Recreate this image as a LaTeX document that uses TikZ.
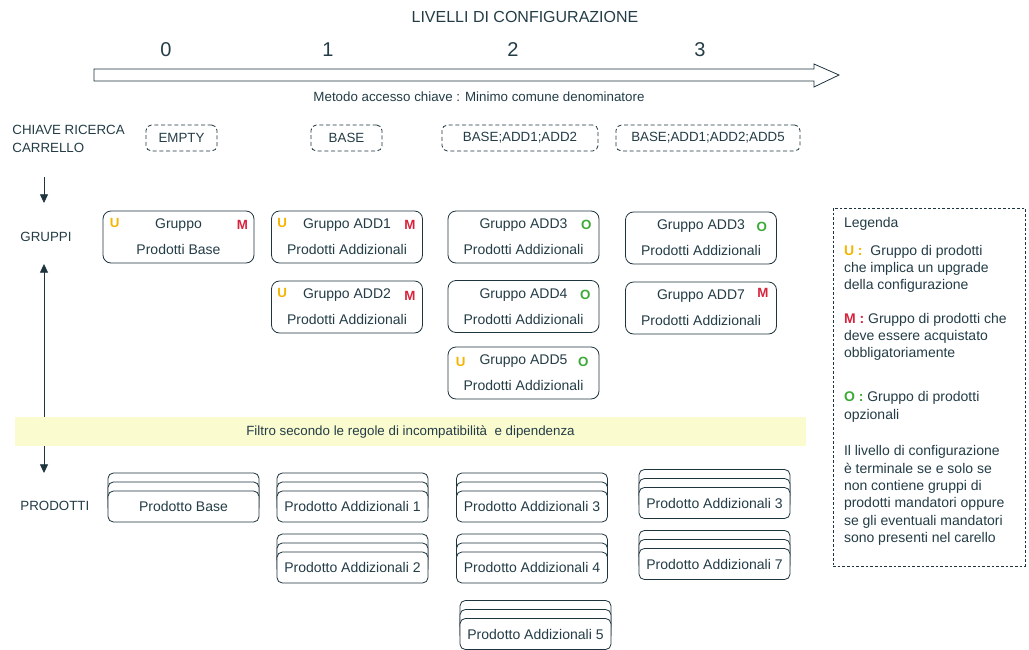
\documentclass[tikz,border=0pt]{standalone}
\usepackage{fontspec}
\setmainfont{Liberation Sans}
\usepackage{tikz}
\usetikzlibrary{
        arrows.meta,
        shadows,
        positioning,
        calc
    }
\definecolor{txtc}{RGB}{35,60,70}
\definecolor{linec}{RGB}{30,52,62}
\definecolor{ucol}{RGB}{245,180,0}
\definecolor{mcol}{RGB}{215,35,60}
\definecolor{ocol}{RGB}{60,170,55}
\definecolor{filtc}{RGB}{251,251,208}

\begin{document}
\begin{tikzpicture}
[x=0.75pt, y=-0.75pt, line width=0.6pt,
every node/.style={text=txtc, font=\fontsize{10.5}{12.6}\selectfont},
keybox/.style={draw=linec, dash pattern=on 3pt off 2pt, rounded corners=4pt, minimum height=19.5pt, inner sep=0pt, font=\fontsize{10}{12}\selectfont},
grpbox/.style={draw=linec, rounded corners=6pt, minimum width=113.25pt, minimum height=39pt, align=center, inner sep=0pt},
prodbox/.style={draw=linec, fill=white, rounded corners=4pt, minimum width=113.25pt, minimum height=23.25pt, inner sep=0pt,
    copy shadow={shadow xshift=0pt, shadow yshift=13.5pt, draw=linec, fill=white},
    copy shadow={shadow xshift=0pt, shadow yshift=6.75pt, draw=linec, fill=white}},
umark/.style={inner sep=0pt, text=ucol, font=\fontsize{10}{12}\selectfont\bfseries},
mmark/.style={inner sep=0pt, text=mcol, font=\fontsize{10}{12}\selectfont\bfseries},
omark/.style={inner sep=0pt, text=ocol, font=\fontsize{10}{12}\selectfont\bfseries},
rowlabel/.style={anchor=west, align=left, inner sep=0pt, font=\fontsize{10}{13.5}\selectfont},
levnum/.style={font=\fontsize{15}{18}\selectfont},
filtbox/.style={fill=filtc, minimum width=593.25pt, minimum height=21.75pt, inner sep=0pt, font=\fontsize{10}{12}\selectfont},
legbox/.style={draw=linec, dash pattern=on 2pt off 1.5pt, minimum width=144pt, minimum height=268.5pt},
legtext/.style={anchor=north west, align=left, inner sep=0pt, font=\fontsize{10.5}{13}\selectfont},
arrow/.style={draw=linec, -{Triangle[width=6pt,length=6.5pt]}},
]
    \useasboundingbox (0,0) rectangle (1029,650);

    % levels
    \node (title) at (525,17) [font=\fontsize{12}{14}\selectfont] {LIVELLI DI CONFIGURAZIONE};
    \node (lev0) [levnum] at (166,50) {0};
    \node (lev1) [levnum] at (328,50) {1};
    \node (lev2) [levnum] at (513,50) {2};
    \node (lev3) [levnum] at (700,50) {3};
    \draw[draw=linec, fill=white] (94,69) -- (814,69) -- (814,64) -- (839,75) -- (814,87) -- (814,81) -- (94,81) -- cycle;
    \node (metodo) at (479,97) [font=\fontsize{10}{12}\selectfont] {Metodo accesso chiave : Minimo comune denominatore};

    % search keys
    \node (chiave) [rowlabel] at (12,139) {CHIAVE RICERCA\\CARRELLO};
    \node (key0) [keybox, minimum width=53.25pt] at (181.5,138) {EMPTY};
    \node (key1) [keybox, minimum width=53.25pt] at (346.5,138) {BASE};
    \node (key2) [keybox, minimum width=117pt] at (520,138) {BASE;ADD1;ADD2};
    \node (key3) [keybox, minimum width=138pt] at (708,138) {BASE;ADD1;ADD2;ADD5};

    % groups
    \node (gruppi) [rowlabel] at (20,237) {GRUPPI};
    \node (grp0) [grpbox] at (178.5,237) {Gruppo\\[7pt]Prodotti Base};
    \node (grp1) [grpbox] at (347,237) {Gruppo ADD1\\[7pt]Prodotti Addizionali};
    \node (grp2) [grpbox] at (347,307) {Gruppo ADD2\\[7pt]Prodotti Addizionali};
    \node (grp3) [grpbox] at (523.5,237) {Gruppo ADD3\\[7pt]Prodotti Addizionali};
    \node (grp4) [grpbox] at (523.5,306.5) {Gruppo ADD4\\[7pt]Prodotti Addizionali};
    \node (grp5) [grpbox] at (523.5,373) {Gruppo ADD5\\[7pt]Prodotti Addizionali};
    \node (grp6) [grpbox] at (701,238) {Gruppo ADD3\\[7pt]Prodotti Addizionali};
    \node (grp7) [grpbox] at (701,308) {Gruppo ADD7\\[7pt]Prodotti Addizionali};

    \node (u0) [umark] at ($(grp0.north west)+(12,12)$) {U};
    \node (m0) [mmark] at ($(grp0.north east)+(-12,14)$) {M};
    \node (u1) [umark] at ($(grp1.north west)+(11,12)$) {U};
    \node (m1) [mmark] at ($(grp1.north east)+(-13,14)$) {M};
    \node (u2) [umark] at ($(grp2.north west)+(11,12)$) {U};
    \node (m2) [mmark] at ($(grp2.north east)+(-13,15)$) {M};
    \node (o3) [omark] at ($(grp3.north east)+(-13,14)$) {O};
    \node (o4) [omark] at ($(grp4.north east)+(-14,15)$) {O};
    \node (u5) [umark] at ($(grp5.north west)+(13,15)$) {U};
    \node (o5) [omark] at ($(grp5.north east)+(-16,15)$) {O};
    \node (o6) [omark] at ($(grp6.north east)+(-15,15)$) {O};
    \node (m7) [mmark] at ($(grp7.north east)+(-14,11)$) {M};

    % filter
    \node (filtro) [filtbox] at (410.5,431.5) {Filtro secondo le regole di incompatibilità \ e dipendenza};

    \coordinate (dn0) at (44,177);
    \coordinate (dn1) at (44,203);
    \coordinate (up1) at (44,264);
    \coordinate (dn2) at (44,473);
    \draw[arrow] (dn0) -- (dn1);
    \draw[arrow] (filtro.north -| up1) -- (up1);
    \draw[arrow] (filtro.south -| dn2) -- (dn2);

    % products
    \node (prodotti) [rowlabel] at (20,506) {PRODOTTI};
    \node (prod0) [prodbox] at (183.5,506.5) {Prodotto Base};
    \node (prod1) [prodbox] at (352.5,506.5) {Prodotto Addizionali 1};
    \node (prod2) [prodbox] at (352.5,567.5) {Prodotto Addizionali 2};
    \node (prod3) [prodbox] at (532,506.5) {Prodotto Addizionali 3};
    \node (prod4) [prodbox] at (532,567.5) {Prodotto Addizionali 4};
    \node (prod5) [prodbox] at (535.5,634) {Prodotto Addizionali 5};
    \node (prod6) [prodbox] at (714.5,503) {Prodotto Addizionali 3};
    \node (prod7) [prodbox] at (714.5,564) {Prodotto Addizionali 7};

    % legend
    \node (legend) [legbox] at (929,387) {};
    \node (legtxt) [legtext] at ($(legend.north west)+(11,9)$) {Legenda\\[8pt]
        {\bfseries\color{ucol}U :}\ \ Gruppo di prodotti\\
        che implica un upgrade\\
        della configurazione\\[12pt]
        {\bfseries\color{mcol}M :} Gruppo di prodotti che\\
        deve essere acquistato\\
        obbligatoriamente\\[20pt]
        {\bfseries\color{ocol}O :} Gruppo di prodotti\\
        opzionali\\[14.5pt]
        Il livello di configurazione\\
        è terminale se e solo se\\
        non contiene gruppi di\\
        prodotti mandatori oppure\\
        se gli eventuali mandatori\\
        sono presenti nel carello};
\end{tikzpicture}
\end{document}
